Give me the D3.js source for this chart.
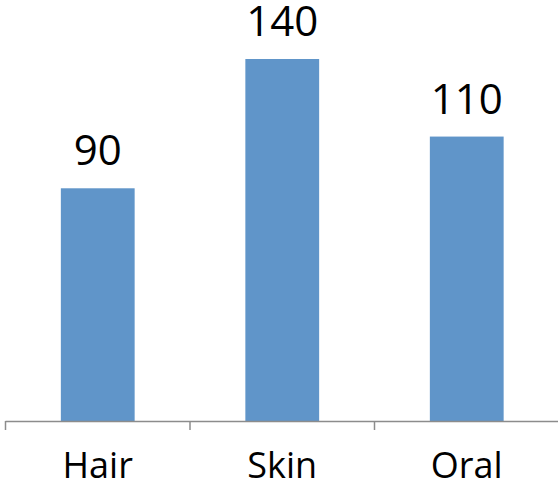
<!DOCTYPE html>
<html>
<head>
<meta charset="utf-8">
<script src="https://cdn.jsdelivr.net/npm/d3@7"></script>
<style>
  html, body { margin: 0; padding: 0; background: #fff; }
  svg { display: block; }
  text { font-family: "Open Sans", "Noto Sans", sans-serif; fill: #000; }
</style>
</head>
<body>
<svg id="chart" width="558" height="484"></svg>
<script>
const categories = ["Hair", "Skin", "Oral"];
const values = [90, 140, 110];

const svg = d3.select("#chart");
const baseline = 421;

const x = d3.scaleBand()
  .domain(categories)
  .range([5.5, 559])
  .paddingInner(0.6)
  .paddingOuter(0.3);

const y = d3.scaleLinear()
  .domain([0, 140])
  .range([baseline, 59]);

// bars
svg.selectAll("rect.bar")
  .data(categories)
  .join("rect")
  .attr("class", "bar")
  .attr("x", d => x(d))
  .attr("width", x.bandwidth())
  .attr("y", (d, i) => y(values[i]))
  .attr("height", (d, i) => baseline - y(values[i]))
  .attr("fill", "#6095c9");

// value labels
svg.selectAll("text.val")
  .data(categories)
  .join("text")
  .attr("class", "val")
  .attr("x", d => x(d) + x.bandwidth() / 2)
  .attr("y", (d, i) => y(values[i]) - 23)
  .attr("text-anchor", "middle")
  .style("font-size", "42px")
  .text((d, i) => values[i]);

// category axis with tick marks between categories
const step = x.step();
const start = x(categories[0]) - x.paddingOuter() * step - (x.paddingInner() * step) / 2 + x.paddingOuter() * step;
const g = svg.append("g");
g.append("line")
  .attr("x1", 5.5).attr("x2", 558)
  .attr("y1", baseline + 0.5).attr("y2", baseline + 0.5)
  .attr("stroke", "#8c8c8c").attr("stroke-width", 1.5);
const tickXs = d3.range(categories.length + 1).map(i => 5.5 + i * step);
g.selectAll("line.tick")
  .data(tickXs)
  .join("line")
  .attr("class", "tick")
  .attr("x1", d => d).attr("x2", d => d)
  .attr("y1", baseline).attr("y2", baseline + 9)
  .attr("stroke", "#8c8c8c").attr("stroke-width", 1.5);

g.selectAll("text.cat")
  .data(categories)
  .join("text")
  .attr("class", "cat")
  .attr("x", d => x(d) + x.bandwidth() / 2)
  .attr("y", 478)
  .attr("text-anchor", "middle")
  .style("font-size", "36px")
  .text(d => d);
</script>
</body>
</html>
